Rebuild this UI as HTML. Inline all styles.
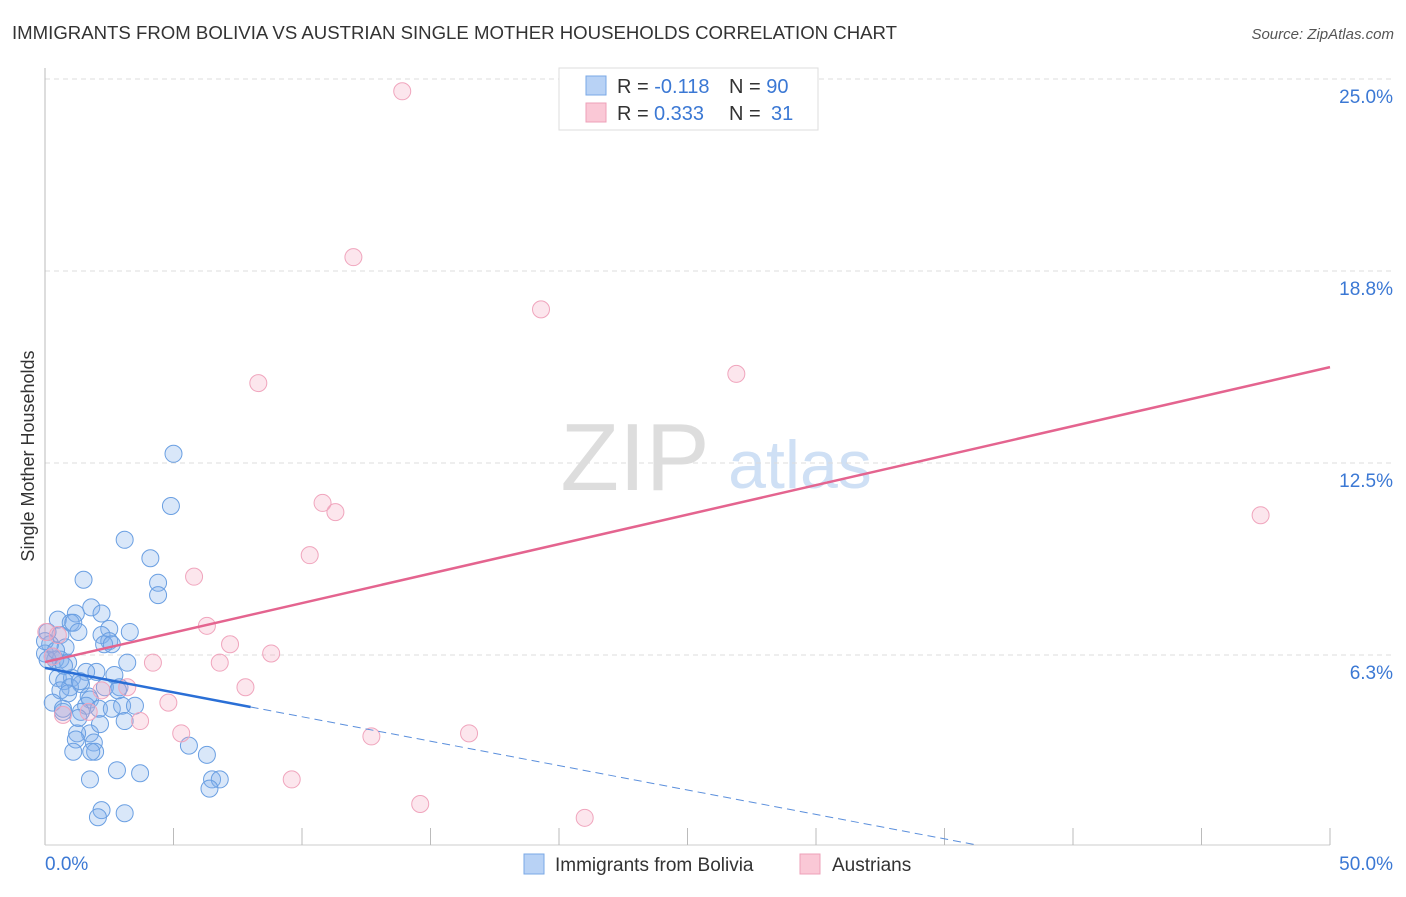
<!DOCTYPE html>
<html><head><meta charset="utf-8"><style>
body{margin:0;background:#fff;font-family:"Liberation Sans",sans-serif;}
svg text{font-family:"Liberation Sans",sans-serif;}
</style></head><body>
<svg id="c" width="1406" height="892">
<text x="12" y="39" font-size="18" fill="#333" textLength="885" lengthAdjust="spacingAndGlyphs">IMMIGRANTS FROM BOLIVIA VS AUSTRIAN SINGLE MOTHER HOUSEHOLDS CORRELATION CHART</text>
<text x="1394" y="39" font-size="15" fill="#555" text-anchor="end" font-style="italic">Source: ZipAtlas.com</text>
<text x="34" y="456" font-size="18" fill="#333" text-anchor="middle" transform="rotate(-90 34 456)">Single Mother Households</text>
<g><text x="635" y="490" font-size="96" fill="#ddd" font-family="Liberation Serif" text-anchor="middle">ZIP</text><text x="800" y="488" font-size="68" fill="#cfe0f5" text-anchor="middle">atlas</text></g>
<g id="grid"></g><g id="axes"></g><g id="pts"></g><g id="lines"></g>
<g>
<rect x="559" y="68" width="259" height="62" fill="#fff" stroke="#ddd"/>
<rect x="586" y="76" width="20" height="19" fill="#b8d2f5" stroke="#7aa8e6"/>
<rect x="586" y="103" width="20" height="19" fill="#fac8d6" stroke="#eea0b8"/>
<text x="617" y="93" font-size="20" fill="#333">R = <tspan fill="#3b78d4">-0.118</tspan><tspan x="729">N = </tspan><tspan fill="#3b78d4">90</tspan></text>
<text x="617" y="120" font-size="20" fill="#333">R = <tspan fill="#3b78d4" x="654">0.333</tspan><tspan x="729">N = </tspan><tspan fill="#3b78d4" x="771">31</tspan></text>
</g>
<g>
<rect x="524" y="854" width="20" height="20" fill="#b8d2f5" stroke="#7aa8e6"/>
<text x="555" y="871" font-size="19" fill="#333">Immigrants from Bolivia</text>
<rect x="800" y="854" width="20" height="20" fill="#fac8d6" stroke="#eea0b8"/>
<text x="832" y="871" font-size="19" fill="#333">Austrians</text>
</g>
</svg>
<script>
const yTicks=[25.0,18.8,12.5,6.3];
const yTickVals=[25,18.75,12.5,6.25];
const xTickLabels=["0.0%","50.0%"];
const blueX=[5.0,4.9,3.1,4.1,4.4,4.4,1.5,1.8,2.2,1.2,0.5,1.0,1.1,3.3,2.5,1.3,0.6,0.1,2.2,2.5,2.3,2.6,0.2,0.8,0.0,0.3,0.6,0.4,0.9,3.2,2.0,1.6,2.7,0.5,1.05,0.75,1.4,0.97,0.6,1.7,2.9,1.75,0.3,0.7,1.6,1.4,2.1,2.6,3.0,3.5,3.1,1.3,1.75,1.25,1.2,1.9,1.95,1.1,1.8,5.6,6.3,1.75,2.8,3.7,6.5,6.8,6.4,2.2,2.06,3.1,0.0,0.1,0.43,0.74,1.36,2.33,2.84,0.9,0.7,2.14];
const blueY=[12.8,11.1,10.0,9.4,8.6,8.2,8.7,7.8,7.6,7.6,7.4,7.3,7.3,7.0,7.1,7.0,6.9,7.0,6.9,6.7,6.6,6.6,6.6,6.5,6.3,6.2,6.1,6.1,6.0,6.0,5.7,5.7,5.6,5.5,5.5,5.4,5.3,5.2,5.1,4.9,5.2,4.8,4.7,4.4,4.6,4.4,4.5,4.5,4.6,4.6,4.1,4.2,3.7,3.7,3.5,3.4,3.1,3.1,3.1,3.3,3.0,2.2,2.5,2.4,2.2,2.2,1.9,1.2,0.97,1.1,6.7,6.1,6.4,5.9,5.4,5.2,5.1,5.0,4.5,4.0];
const pinkX=[13.9,12.0,19.3,8.3,26.9,47.3,10.8,11.3,10.3,5.8,6.3,7.2,6.8,8.8,4.2,3.2,7.8,2.2,4.8,3.7,5.3,12.7,16.5,9.6,14.6,21.0,0.5,0.05,0.3,0.7,1.7];
const pinkY=[24.6,19.2,17.5,15.1,15.4,10.8,11.2,10.9,9.5,8.8,7.2,6.6,6.0,6.3,6.0,5.2,5.2,5.1,4.7,4.1,3.7,3.6,3.7,2.2,1.4,0.95,6.9,7.0,6.2,4.3,4.4];
const pinkLine=[6.02,0.192];
const blueLine=[5.83,-0.159];
const X=v=>45+v*25.7, Y=v=>847-v*30.72;
const NS="http://www.w3.org/2000/svg";
function mk(p,t,a){const e=document.createElementNS(NS,t);for(const k in a)e.setAttribute(k,a[k]);document.getElementById(p).appendChild(e);return e;}
yTickVals.forEach((v,i)=>{
 const g=mk('grid','line',{x1:45,x2:1392,y1:Y(v),y2:Y(v),stroke:'#ddd','stroke-dasharray':'5,4'});
 
 
 const t=mk('grid','text',{x:1393,y:Y(v)+24,'font-size':19,fill:'#3b78d4','text-anchor':'end'});
 t.textContent=yTicks[i].toFixed(1)+'%';
 
 
});
const ax=mk('axes','line',{x1:45,x2:45,y1:68,y2:845,stroke:'#bbb'});


const bx=mk('axes','line',{x1:45,x2:1330,y1:845,y2:845,stroke:'#ccc'});


for(let v=5;v<=50;v+=5){const t=mk('axes','line',{x1:X(v),x2:X(v),y1:828,y2:845,stroke:'#bbb'});
 
 }
[[0,'start',45],[50,'end',1393]].forEach((d,i)=>{const t=mk('axes','text',{x:d[2],y:870,'font-size':19,fill:'#3b78d4','text-anchor':d[1]});t.textContent=xTickLabels[i];
 
 });
blueX.forEach((x,i)=>{const c=mk('pts','circle',{cx:X(x),cy:Y(blueY[i]),r:8.5,fill:'rgba(130,175,235,0.3)',stroke:'#6a9fe2','stroke-width':1});
 
 });
pinkX.forEach((x,i)=>{const c=mk('pts','circle',{cx:X(x),cy:Y(pinkY[i]),r:8.5,fill:'rgba(245,165,190,0.28)',stroke:'#f0a5bd','stroke-width':1});
 
 });
const pl=mk('lines','line',{x1:X(0),y1:Y(pinkLine[0]),x2:X(50),y2:Y(pinkLine[0]+50*pinkLine[1]),stroke:'#e4648f','stroke-width':2.5});


const xe=8;
const bl=mk('lines','line',{x1:X(0),y1:Y(blueLine[0]),x2:X(xe),y2:Y(blueLine[0]+xe*blueLine[1]),stroke:'#2a6fd6','stroke-width':2.5});


const yb=(847-845)/30.72;
const xz=Math.min(50,(yb-blueLine[0])/blueLine[1]);
const bd=mk('lines','line',{x1:X(xe),y1:Y(blueLine[0]+xe*blueLine[1]),x2:X(xz),y2:Y(blueLine[0]+xz*blueLine[1]),stroke:'#5b8fdc','stroke-width':1,'stroke-dasharray':'8,5'});


</script>
</body></html>
